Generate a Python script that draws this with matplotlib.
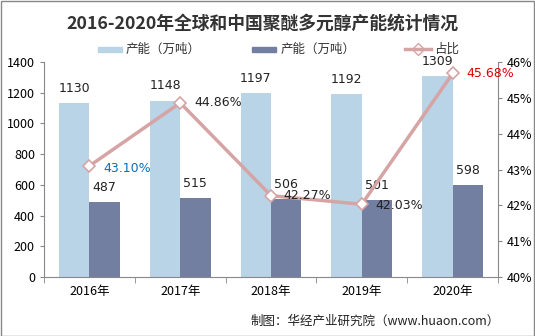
import matplotlib
matplotlib.use("Agg")
import matplotlib.pyplot as plt
from matplotlib.patches import Rectangle
import numpy as np

plt.rcParams['font.family'] = ['Noto Sans CJK SC', 'DejaVu Sans']

years = ["2016年", "2017年", "2018年", "2019年", "2020年"]
global_cap = [1130, 1148, 1197, 1192, 1309]
china_cap = [487, 515, 506, 501, 598]
share = [43.10, 44.86, 42.27, 42.03, 45.68]
share_labels = ["43.10%", "44.86%", "42.27%", "42.03%", "45.68%"]
share_colors = ["#0070C0", "#222222", "#222222", "#222222", "#E00000"]
share_offsets = [(10, -2), (10, 0), (9, 0), (10, -1), (10, 0)]

W, H = 535, 336
fig = plt.figure(figsize=(W / 100, H / 100), dpi=100)
ax = fig.add_axes([44 / W, 1 - 277 / H, (498 - 44) / W, (277 - 62) / H])
ax2 = ax.twinx()

x = np.arange(len(years))
bw = 0.335
light = "#B8D4E6"
dark = "#737FA0"
linec = "#D6A4A4"

ax.bar(x - bw / 2, global_cap, bw, color=light, zorder=2)
ax.bar(x + bw / 2, china_cap, bw, color=dark, zorder=2)
for i in range(len(years)):
    ax.annotate(str(global_cap[i]), (x[i] - bw / 2, global_cap[i]), xytext=(0, 6),
                textcoords="offset points", ha="center", va="bottom", fontsize=9,
                color="#222222", family=["DejaVu Sans"])
    ax.annotate(str(china_cap[i]), (x[i] + bw / 2, china_cap[i]), xytext=(0, 6),
                textcoords="offset points", ha="center", va="bottom", fontsize=9,
                color="#222222", family=["DejaVu Sans"])

ax.set_xlim(-0.5, len(years) - 0.5)
ax.set_ylim(0, 1400)
ax.set_yticks(range(0, 1401, 200))
ax.set_xticks(x)
ax.set_xticklabels(years, fontsize=9)
ax.set_xticks(np.arange(-0.5, len(years), 1), minor=True)
ax.tick_params(axis="x", which="major", length=0, pad=6)
ax.tick_params(axis="x", which="minor", length=4, color="#888888", direction="out")
ax.tick_params(axis="y", labelsize=9, length=3, color="#888888", direction="out")

ax2.plot(x, share, color=linec, lw=2.5, marker="D", markersize=6,
         markerfacecolor="white", markeredgecolor=linec, markeredgewidth=1.2, zorder=3)
ax2.set_ylim(40, 46)
ax2.set_yticks(range(40, 47))
ax2.set_yticklabels([f"{v}%" for v in range(40, 47)])
ax2.tick_params(axis="y", labelsize=9, length=3, color="#888888", direction="out")
for i in range(len(years)):
    ax2.annotate(share_labels[i], (x[i], share[i]), xytext=share_offsets[i],
                 textcoords="offset points", ha="left", va="center", fontsize=9,
                 color=share_colors[i], family=["DejaVu Sans"])

for a in (ax, ax2):
    a.spines["top"].set_visible(False)
    for s in ("left", "right", "bottom"):
        a.spines[s].set_color("#888888")
ax.spines["right"].set_visible(False)
ax2.spines["left"].set_visible(False)
ax2.spines["bottom"].set_visible(False)
ax2.spines["top"].set_visible(False)

fig.text(262 / W, 1 - 24 / H, "2016-2020年全球和中国聚醚多元醇产能统计情况",
         ha="center", va="center", fontsize=12.8, fontweight="bold", color="#333333")

# legend
ly = 1 - 49 / H
fig.patches.append(Rectangle((98 / W, ly - 2.5 / H), 24 / W, 5 / H, transform=fig.transFigure,
                             color=light))
fig.text(126 / W, ly, "产能（万吨）", ha="left", va="center", fontsize=9, color="#333333")
fig.patches.append(Rectangle((252 / W, ly - 2.5 / H), 24 / W, 5 / H, transform=fig.transFigure,
                             color=dark))
fig.text(281 / W, ly, "产能（万吨）", ha="left", va="center", fontsize=9, color="#333333")
fig.lines.append(plt.Line2D([405 / W, 431 / W], [ly, ly], transform=fig.transFigure,
                            color=linec, lw=2.5, zorder=3))
fig.lines.append(plt.Line2D([418 / W], [ly], transform=fig.transFigure, color=linec,
                            marker="D", markersize=6, markerfacecolor="white",
                            markeredgecolor=linec, lw=0))
fig.text(434 / W, ly, "占比", ha="left", va="center", fontsize=9, color="#333333")

fig.text(500 / W, 1 - 321 / H, "制图：华经产业研究院（www.huaon.com）", ha="right",
         va="center", fontsize=9, color="#222222")

fig.patches.append(Rectangle((0.5 / W, 0.5 / H), (W - 1.5) / W, (H - 1.5) / H,
                             transform=fig.transFigure, fill=False, edgecolor="#888888", lw=1))

fig.savefig("out.png", dpi=100)
